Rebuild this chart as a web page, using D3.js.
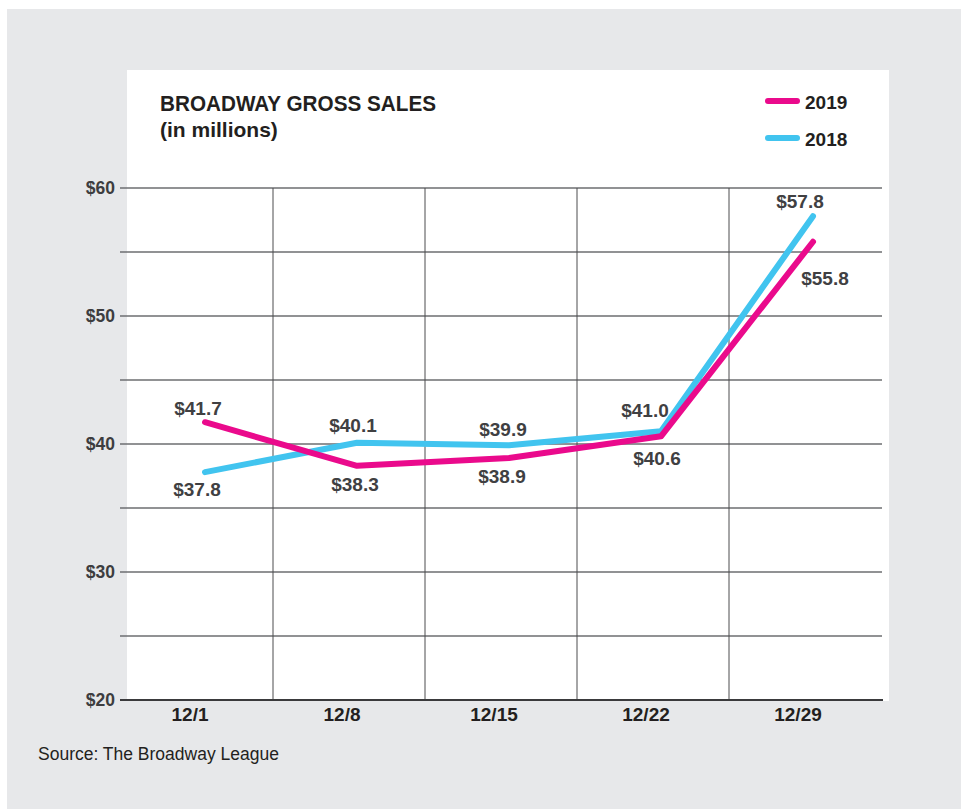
<!DOCTYPE html>
<html>
<head>
<meta charset="utf-8">
<script src="https://cdn.jsdelivr.net/npm/d3@7"></script>
<style>
  html, body { margin: 0; padding: 0; background: #fff; }
  text { font-family: "Liberation Sans", Arial, sans-serif; }
</style>
</head>
<body>
<svg width="961" height="809"></svg>
<script>
let width = 961;
let height = 809;

// data
const weeks = ["12/1", "12/8", "12/15", "12/22", "12/29"];
const sales2019 = [41.7, 38.3, 38.9, 40.6, 55.8];
const sales2018 = [37.8, 40.1, 39.9, 41.0, 57.8];
const yTicks = [20, 30, 40, 50, 60];
const gridValues = [25, 35, 45, 50, 55, 60, 30, 40];

// label offsets (pixels from the point)
const off2019 = [[-7, -7], [-2, 25], [-7, 25], [-4, 29], [12, 43]];
const off2018 = [[-8, 24], [-4, -11], [-6, -9], [-16, -14], [-13, -8]];

const svg = d3.select("svg");

// background panels
svg.append("rect").attr("x", 7).attr("y", 9).attr("width", width - 7).attr("height", height - 9)
  .attr("fill", "#e7e8ea");
svg.append("rect").attr("x", 127).attr("y", 70).attr("width", 762).attr("height", 631)
  .attr("fill", "#fff");

// scales
const x = d3.scaleBand().domain(weeks).range([121, 881]);
const y = d3.scaleLinear().domain([20, 60]).range([700, 188]);
const px = d => x(d) + x.bandwidth() / 2 + 8;

// horizontal grid
svg.append("g").selectAll("line")
  .data(gridValues)
  .enter().append("line")
  .attr("x1", 120).attr("x2", 882)
  .attr("y1", d => y(d)).attr("y2", d => y(d))
  .attr("stroke", "#6d6e70").attr("stroke-width", 1.3);

// vertical separators
svg.append("g").selectAll("line")
  .data(weeks.slice(1))
  .enter().append("line")
  .attr("x1", d => x(d)).attr("x2", d => x(d))
  .attr("y1", y(60)).attr("y2", y(20))
  .attr("stroke", "#4d4d4f").attr("stroke-width", 1);

// base line
svg.append("line").attr("x1", 120).attr("x2", 883).attr("y1", y(20)).attr("y2", y(20))
  .attr("stroke", "#3a3a3c").attr("stroke-width", 2);

// y labels
svg.append("g").selectAll("text")
  .data(yTicks)
  .enter().append("text")
  .attr("x", 115).attr("y", d => y(d) + 6)
  .attr("text-anchor", "end")
  .attr("font-size", 17.5).attr("font-weight", "bold").attr("fill", "#3d3d3f")
  .text(d => "$" + d);

// x labels
svg.append("g").selectAll("text")
  .data(weeks)
  .enter().append("text")
  .attr("x", d => x(d) + x.bandwidth() / 2 - 7).attr("y", 721)
  .attr("text-anchor", "middle")
  .attr("font-size", 19).attr("font-weight", "bold").attr("fill", "#231f20")
  .text(d => d);

// lines
const line = d3.line().x((d, i) => px(weeks[i])).y(d => y(d));
const series = [
  { values: sales2018, color: "#41c4ef", off: off2018 },
  { values: sales2019, color: "#ea0a8c", off: off2019 }
];

series.forEach(s => {
  svg.append("path")
    .datum(s.values)
    .attr("d", line)
    .attr("fill", "none")
    .attr("stroke", s.color)
    .attr("stroke-width", 6)
    .attr("stroke-linecap", "round")
    .attr("stroke-linejoin", "round");
});

// value labels
series.forEach(s => {
  svg.append("g").selectAll("text")
    .data(s.values)
    .enter().append("text")
    .attr("x", (d, i) => px(weeks[i]) + s.off[i][0])
    .attr("y", (d, i) => y(d) + s.off[i][1])
    .attr("text-anchor", "middle")
    .attr("font-size", 19).attr("font-weight", "bold").attr("fill", "#404042")
    .text(d => "$" + d.toFixed(1));
});

// title
svg.append("text").attr("x", 160).attr("y", 111)
  .attr("font-size", 22).attr("font-weight", "bold").attr("fill", "#231f20")
  .attr("textLength", 276).attr("lengthAdjust", "spacingAndGlyphs")
  .text("BROADWAY GROSS SALES");
svg.append("text").attr("x", 160).attr("y", 137)
  .attr("font-size", 21).attr("font-weight", "bold").attr("fill", "#231f20")
  .text("(in millions)");

// legend
const legend = [["2019", "#ea0a8c"], ["2018", "#41c4ef"]];
legend.forEach((l, i) => {
  const ly = 101 + i * 37;
  svg.append("line").attr("x1", 768).attr("x2", 797).attr("y1", ly).attr("y2", ly)
    .attr("stroke", l[1]).attr("stroke-width", 6).attr("stroke-linecap", "round");
  svg.append("text").attr("x", 805).attr("y", ly + 8)
    .attr("font-size", 19).attr("font-weight", "bold").attr("fill", "#231f20")
    .text(l[0]);
});

// source
svg.append("text").attr("x", 38).attr("y", 760)
  .attr("font-size", 17.5).attr("fill", "#231f20")
  .text("Source: The Broadway League");
</script>
</body>
</html>
